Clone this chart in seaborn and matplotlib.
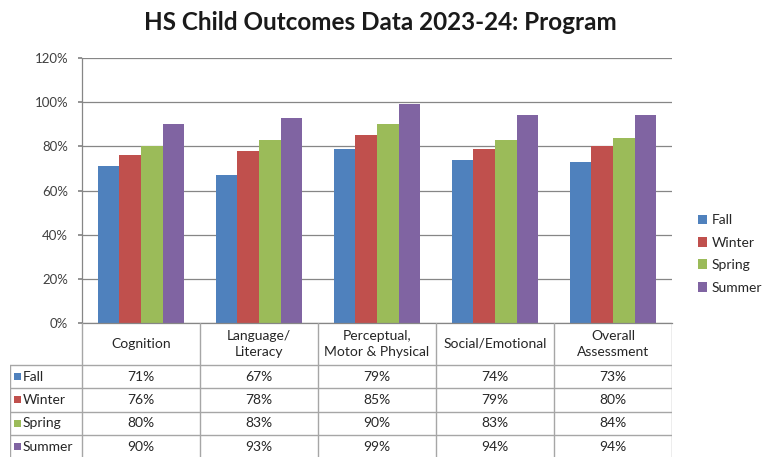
import matplotlib
matplotlib.use("Agg")
import matplotlib.pyplot as plt
from matplotlib.patches import Patch, Rectangle
import seaborn as sns
import pandas as pd

categories = ["Cognition", "Language/\nLiteracy", "Perceptual,\nMotor & Physical",
              "Social/Emotional", "Overall\nAssessment"]
seasons = ["Fall", "Winter", "Spring", "Summer"]
fall = [71, 67, 79, 74, 73]
winter = [76, 78, 85, 79, 80]
spring = [80, 83, 90, 83, 84]
summer = [90, 93, 99, 94, 94]
colors = ["#4F81BD", "#C0504D", "#9BBB59", "#8064A2"]
yticks = [0, 20, 40, 60, 80, 100, 120]
title = "HS Child Outcomes Data 2023-24: Program"

series = {"Fall": fall, "Winter": winter, "Spring": spring, "Summer": summer}
rows = []
for s in seasons:
    for c, v in zip(categories, series[s]):
        rows.append({"category": c, "season": s, "value": v})
df = pd.DataFrame(rows)

sns.set_theme(style="white")
plt.rcParams["font.family"] = ["Lato", "DejaVu Sans"]

W, H = 767, 457
fig = plt.figure(figsize=(W / 100, H / 100), dpi=100)
fig.patch.set_facecolor("white")

# plot area in px
L, R, T, B = 82, 672, 58, 323
ax = fig.add_axes([L / W, 1 - B / H, (R - L) / W, (B - T) / H])
sns.barplot(data=df, x="category", y="value", hue="season", hue_order=seasons,
            order=categories, palette=colors, saturation=1, width=0.73,
            legend=False, ax=ax, linewidth=0)
ax.set_xlim(-0.5, len(categories) - 0.5)
ax.set_ylim(0, 120)
ax.set_yticks(yticks)
ax.set_yticklabels([f"{t}%" for t in yticks], fontsize=9.5, color="#404040")
ax.tick_params(axis="y", length=3, pad=7, color="#868686", left=True)
ax.set_xticks([])
ax.set_xlabel("")
ax.set_ylabel("")
ax.grid(axis="y", color="#868686", linewidth=0.9)
ax.set_axisbelow(True)
for sp in ["top", "right"]:
    ax.spines[sp].set_visible(False)
for sp in ["left", "bottom"]:
    ax.spines[sp].set_color("#868686")
    ax.spines[sp].set_linewidth(0.9)

# data table
px_per_unit = (R - L) / len(categories)
label_w = (L - 10) / px_per_unit
tax = fig.add_axes([10 / W, 0, (R - 10) / W, (H - B) / H])
tax.set_xlim(-0.5 - label_w, len(categories) - 0.5)
tax.set_ylim(H - B, 0)
tax.axis("off")
header_h = 42
row_h = 23.3
lc = "#a6a6a6"
x0 = -0.5 - label_w
x1 = len(categories) - 0.5
# vertical lines
for i in range(len(categories) + 1):
    tax.plot([i - 0.5, i - 0.5], [0, H - B], color=lc, lw=1)
tax.plot([x0, x0], [header_h, H - B], color=lc, lw=1)
for k in range(len(seasons)):
    y = header_h + k * row_h
    tax.plot([x0, x1], [y, y], color=lc, lw=1)
for i, c in enumerate(categories):
    tax.text(i, header_h / 2, c, ha="center", va="center", fontsize=10,
             color="#262626", linespacing=1.3)
for k, s in enumerate(seasons):
    yc = header_h + (k + 0.5) * row_h
    tax.add_patch(Rectangle((x0 + 4 / px_per_unit, yc - 3.5), 7 / px_per_unit, 7,
                            color=colors[k], lw=0))
    tax.text(x0 + 13 / px_per_unit, yc, s, ha="left", va="center", fontsize=10,
             color="#262626")
    for i, v in enumerate(series[s]):
        tax.text(i, yc, f"{v}%", ha="center", va="center", fontsize=10, color="#262626")

handles = [Patch(facecolor=col, edgecolor="none", label=s) for s, col in zip(seasons, colors)]
fig.legend(handles=handles, loc="center left", bbox_to_anchor=(685 / W, 1 - 254 / H),
           frameon=False, fontsize=10, handlelength=0.7, handleheight=0.7,
           handletextpad=0.3, labelspacing=0.75, labelcolor="#262626")

fig.text(380 / W, 1 - 23 / H, title, ha="center", va="center", fontsize=17.5,
         fontweight="bold", color="#1a1a1a")

fig.savefig("out.png", dpi=100)
